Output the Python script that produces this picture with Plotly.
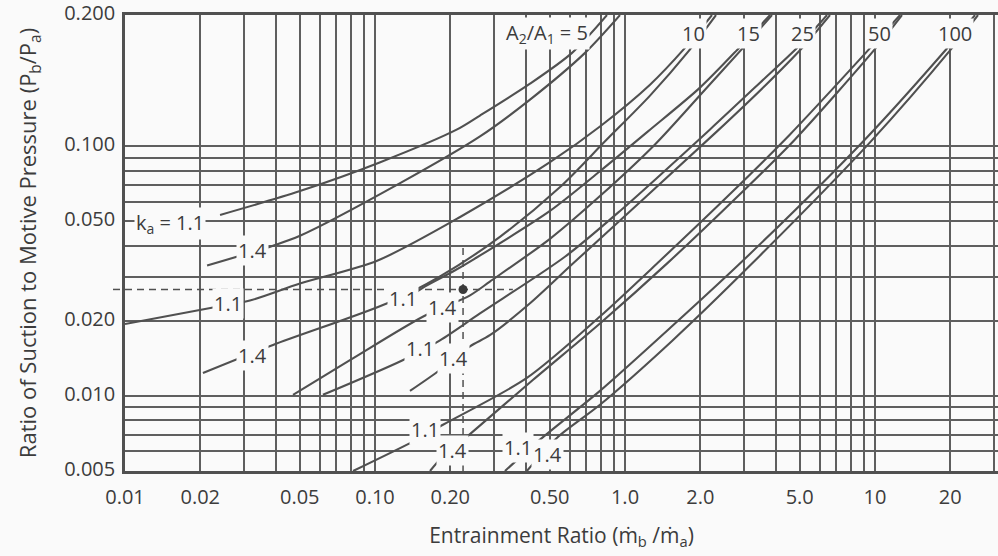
import math
import plotly.graph_objects as go

# ---------------- axis grid / tick values ----------------
x_tick_vals = [0.01, 0.02, 0.05, 0.1, 0.2, 0.5, 1, 2, 5, 10, 20]
x_tick_text = ["0.01", "0.02", "0.05", "0.10", "0.20", "0.50", "1.0", "2.0", "5.0", "10", "20"]
x_minor_vals = [0.03, 0.04, 0.06, 0.07, 0.08, 0.09,
                0.3, 0.4, 0.6, 0.7, 0.8, 0.9,
                3, 4, 6, 7, 8, 9, 30]

y_top = 0.336          # top edge of the chart (printed as 0.200 on the original)
y_tick_vals = [0.005, 0.01, 0.02, 0.05, 0.1, y_top]
y_tick_text = ["0.005", "0.010", "0.020", "0.050", "0.100", "0.200"]
y_minor_vals = [0.006, 0.007, 0.008, 0.009, 0.03, 0.04, 0.06, 0.07, 0.08, 0.09]

# ---------------- curves: A2/A1 and k_a ----------------
a5_k11_x = [0.0240, 0.0501, 0.105, 0.213, 0.263, 0.417, 0.614, 0.847]
a5_k11_y = [0.0531, 0.0662, 0.0864, 0.1169, 0.1329, 0.1783, 0.2369, 0.3357]
a5_k14_x = [0.0213, 0.0391, 0.0501, 0.126, 0.263, 0.417, 0.692, 0.955]
a5_k14_y = [0.0333, 0.0400, 0.0438, 0.0712, 0.1096, 0.1539, 0.2369, 0.3357]

a10_k11_x = [0.0100, 0.0225, 0.0316, 0.0501, 0.102, 0.219, 0.501, 0.794, 1.259, 1.738, 2.228]
a10_k11_y = [0.0194, 0.0226, 0.0241, 0.0282, 0.0348, 0.0521, 0.0864, 0.1201, 0.1766, 0.2480, 0.3357]
a10_k14_x = [0.0205, 0.0391, 0.112, 0.182, 0.316, 0.550, 0.832, 1.259, 1.786, 2.312]
a10_k14_y = [0.01235, 0.0160, 0.0235, 0.0301, 0.0434, 0.0687, 0.1047, 0.1597, 0.2390, 0.3357]

a15_k11_x = [0.138, 0.158, 0.205, 0.251, 0.501, 0.794, 1.236, 1.995, 2.884, 3.802]
a15_k11_y = [0.0250, 0.0274, 0.0315, 0.0355, 0.0551, 0.0795, 0.1148, 0.1719, 0.2502, 0.3357]
a15_k14_x = [0.0470, 0.0794, 0.156, 0.240, 0.288, 0.501, 0.794, 1.318, 2.089, 2.965, 3.873]
a15_k14_y = [0.0101, 0.0139, 0.0208, 0.0253, 0.0287, 0.0426, 0.0632, 0.1018, 0.1687, 0.2480, 0.3357]

a25_k11_x = [0.0619, 0.129, 0.182, 0.263, 0.575, 0.955, 2.188, 3.467, 5.012, 6.427]
a25_k11_y = [0.0101, 0.0139, 0.0167, 0.0214, 0.0361, 0.0551, 0.1169, 0.1799, 0.2549, 0.3357]
a25_k14_x = [0.138, 0.182, 0.240, 0.288, 0.417, 0.619, 2.333, 3.631, 5.152, 6.607]
a25_k14_y = [0.01047, 0.0127, 0.0158, 0.0175, 0.0235, 0.0339, 0.1148, 0.1750, 0.2502, 0.3357]

a50_k11_x = [0.0817, 0.147, 0.187, 0.405, 0.794, 1.380, 2.630, 4.571, 9.817, 12.59]
a50_k11_y = [0.0050, 0.00668, 0.00766, 0.0118, 0.0208, 0.0348, 0.0644, 0.1116, 0.2549, 0.3357]
a50_k14_x = [0.166, 0.182, 0.236, 0.429, 0.794, 1.486, 2.754, 4.786, 10.09, 12.82]
a50_k14_y = [0.0050, 0.00556, 0.00693, 0.0116, 0.0195, 0.0342, 0.0615, 0.1066, 0.2480, 0.3357]

a100_k11_x = [0.331, 0.457, 0.794, 1.514, 3.076, 9.120, 19.95, 25.12]
a100_k11_y = [0.0050, 0.00668, 0.01047, 0.0187, 0.0361, 0.1066, 0.2549, 0.3357]
a100_k14_x = [0.405, 0.535, 0.794, 1.542, 3.221, 9.550, 20.51, 25.82]
a100_k14_y = [0.0050, 0.00680, 0.00921, 0.0166, 0.0339, 0.1037, 0.2502, 0.3357]

curves = [
    ("A2/A1=5, k=1.1", a5_k11_x, a5_k11_y), ("A2/A1=5, k=1.4", a5_k14_x, a5_k14_y),
    ("A2/A1=10, k=1.1", a10_k11_x, a10_k11_y), ("A2/A1=10, k=1.4", a10_k14_x, a10_k14_y),
    ("A2/A1=15, k=1.1", a15_k11_x, a15_k11_y), ("A2/A1=15, k=1.4", a15_k14_x, a15_k14_y),
    ("A2/A1=25, k=1.1", a25_k11_x, a25_k11_y), ("A2/A1=25, k=1.4", a25_k14_x, a25_k14_y),
    ("A2/A1=50, k=1.1", a50_k11_x, a50_k11_y), ("A2/A1=50, k=1.4", a50_k14_x, a50_k14_y),
    ("A2/A1=100, k=1.1", a100_k11_x, a100_k11_y), ("A2/A1=100, k=1.4", a100_k14_x, a100_k14_y),
]

# worked example
example_x = 0.225
example_y = 0.0267
example_h_end = 0.356
example_v_top = 0.0396

# curve labels
area_labels = [("A<sub>2</sub>/A<sub>1</sub> = 5", 0.4875), ("10", 1.871), ("15", 3.105),
               ("25", 5.152), ("50", 10.47), ("100", 20.89)]
area_label_y = 0.284
k_labels = [("k<sub>a</sub> = 1.1", 0.01514, 0.0489), ("1.4", 0.0325, 0.0382),
            ("1.1", 0.0258, 0.0235), ("1.4", 0.0325, 0.01457),
            ("1.1", 0.129, 0.0246), ("1.4", 0.1854, 0.0226),
            ("1.1", 0.1514, 0.01553), ("1.4", 0.207, 0.01417),
            ("1.1", 0.158, 0.00732), ("1.4", 0.205, 0.00604),
            ("1.1", 0.373, 0.00621), ("1.4", 0.492, 0.00582)]

INK = "#505050"
GRID = "#5e5e5e"
TXT = "#3c3c3c"
BG = "#fafafa"
FONT = "Open Sans"

FIG_W, FIG_H = 998, 556
M_L, M_R, M_T, M_B = 125, 0, 15, 85
plot_w = FIG_W - M_L - M_R

fig = go.Figure()
for name, xs, ys in curves:
    fig.add_trace(go.Scatter(x=xs, y=ys, mode="lines", name=name,
                             line=dict(color=INK, width=2.1, shape="spline", smoothing=0.8),
                             hoverinfo="name"))

fig.add_trace(go.Scatter(x=[0.01, example_h_end], y=[example_y, example_y], mode="lines",
                         line=dict(color=INK, width=1.5, dash="7px,5px"), hoverinfo="skip"))
fig.add_trace(go.Scatter(x=[example_x, example_x], y=[0.005, example_v_top], mode="lines",
                         line=dict(color=INK, width=1.5, dash="7px,5px"), hoverinfo="skip"))
fig.add_trace(go.Scatter(x=[example_x], y=[example_y], mode="markers",
                         marker=dict(color="#3a3a3a", size=9), hoverinfo="skip"))

annotations = []
for text, xv in area_labels:
    annotations.append(dict(x=math.log10(xv), y=math.log10(area_label_y), xref="x", yref="y",
                            text=text, showarrow=False, bgcolor=BG, borderpad=1,
                            font=dict(family=FONT, size=20, color=TXT)))
for text, xv, yv in k_labels:
    annotations.append(dict(x=math.log10(xv), y=math.log10(yv), xref="x", yref="y",
                            text=text, showarrow=False, bgcolor=BG, borderpad=1,
                            font=dict(family=FONT, size=20, color=TXT)))

fig.update_layout(
    width=FIG_W, height=FIG_H,
    margin=dict(l=M_L, r=M_R, t=M_T, b=M_B),
    paper_bgcolor=BG, plot_bgcolor=BG,
    showlegend=False,
    font=dict(family=FONT, color=TXT),
    annotations=annotations,
    shapes=[dict(type="line", xref="paper", yref="y", x0=-12 / plot_w, x1=0,
                 y0=example_y, y1=example_y, line=dict(color=INK, width=1.5, dash="7px,5px"))],
)
fig.update_xaxes(
    type="log", range=[-2, -2 + plot_w / 250],
    tickvals=x_tick_vals, ticktext=x_tick_text,
    showgrid=True, gridcolor=GRID, gridwidth=1.7,
    minor=dict(tickvals=x_minor_vals, showgrid=True, gridcolor=GRID, gridwidth=1.7, ticks=""),
    showline=True, linecolor=INK, linewidth=2.6, mirror=True,
    ticks="", ticklabelstandoff=6, ticklabeloverflow="allow",
    tickfont=dict(family=FONT, size=20, color=TXT),
    title=dict(text="Entrainment Ratio (ṁ<sub>b</sub> /ṁ<sub>a</sub>)", standoff=20,
               font=dict(family=FONT, size=21, color=TXT)),
    automargin=False,
)
fig.update_yaxes(
    type="log", range=[math.log10(0.005), math.log10(y_top)],
    tickvals=y_tick_vals, ticktext=y_tick_text,
    showgrid=True, gridcolor=GRID, gridwidth=1.7,
    minor=dict(tickvals=y_minor_vals, showgrid=True, gridcolor=GRID, gridwidth=1.7, ticks=""),
    showline=True, linecolor=INK, linewidth=2.6, mirror=False,
    ticks="", ticklabelstandoff=3, ticklabelshift=-2, ticklabeloverflow="allow",
    tickfont=dict(family=FONT, size=20, color=TXT),
    title=dict(text="Ratio of Suction to Motive Pressure (P<sub>b</sub>/P<sub>a</sub>)", standoff=22,
               font=dict(family=FONT, size=22, color=TXT)),
    automargin=False,
)

# remove the browser's default 8px page margin so the figure fills the window exactly
fig.write_html("out.html", config={"displayModeBar": False},
               post_script="document.body.style.margin='0';")
